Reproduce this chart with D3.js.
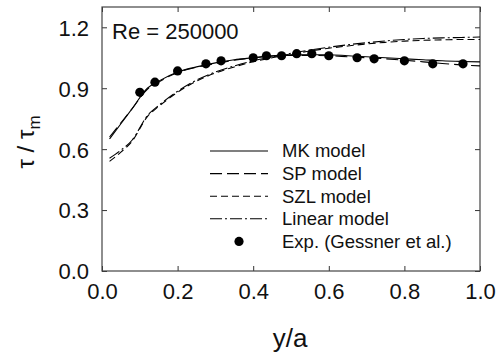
<!DOCTYPE html>
<html>
<head>
<meta charset="utf-8">
<script src="https://cdn.jsdelivr.net/npm/d3@7"></script>
<style>
  body { margin: 0; background: #fff; }
  svg { font-family: Arial, "Liberation Sans", sans-serif; }
</style>
</head>
<body>
<script>
// model curves sampled along y/a
const xs = [0.02, 0.05, 0.08, 0.12, 0.15, 0.2, 0.25, 0.3, 0.35, 0.4, 0.45, 0.5, 0.55, 0.6, 0.65, 0.7, 0.75, 0.8, 0.85, 0.9, 0.95, 1.0];
const mk = [0.65, 0.725, 0.80, 0.90, 0.935, 0.98, 1.005, 1.025, 1.04, 1.05, 1.06, 1.065, 1.065, 1.065, 1.06, 1.055, 1.05, 1.045, 1.04, 1.035, 1.032, 1.03];
const sp = [0.66, 0.73, 0.80, 0.895, 0.93, 0.978, 1.003, 1.022, 1.038, 1.05, 1.058, 1.062, 1.062, 1.06, 1.055, 1.05, 1.045, 1.038, 1.03, 1.022, 1.015, 1.01];
const szl = [0.54, 0.585, 0.64, 0.76, 0.81, 0.88, 0.935, 0.975, 1.005, 1.03, 1.05, 1.068, 1.083, 1.097, 1.108, 1.118, 1.126, 1.132, 1.136, 1.138, 1.14, 1.14];
const lin = [0.555, 0.595, 0.645, 0.765, 0.815, 0.885, 0.94, 0.98, 1.01, 1.035, 1.055, 1.072, 1.088, 1.102, 1.114, 1.124, 1.133, 1.14, 1.145, 1.148, 1.15, 1.152];

// experiment (Gessner et al.)
const expX = [0.10, 0.14, 0.20, 0.275, 0.315, 0.40, 0.435, 0.475, 0.515, 0.555, 0.60, 0.675, 0.72, 0.80, 0.875, 0.955];
const expY = [0.88, 0.93, 0.985, 1.02, 1.035, 1.05, 1.06, 1.06, 1.07, 1.07, 1.06, 1.05, 1.045, 1.035, 1.02, 1.02];

const xTicks = [0, 0.2, 0.4, 0.6, 0.8, 1.0];
const yTicks = [0, 0.3, 0.6, 0.9, 1.2];

const series = [
  { name: "MK model", values: mk, dash: null },
  { name: "SP model", values: sp, dash: "12,5" },
  { name: "SZL model", values: szl, dash: "7,4" },
  { name: "Linear model", values: lin, dash: "12,3,2,3" }
];

const W = 497, H = 356;
const m = { left: 102, top: 7, right: 17, bottom: 85 };
const w = W - m.left - m.right, h = H - m.top - m.bottom;

const svg = d3.select("body").append("svg").attr("width", W).attr("height", H);
const g = svg.append("g").attr("transform", `translate(${m.left},${m.top})`);

const x = d3.scaleLinear().domain([0, 1]).range([0, w]);
const y = d3.scaleLinear().domain([0, 1.3]).range([h, 0]);

// axes, ticks pointing inward
const axisStyle = sel => {
  sel.select(".domain").remove();
  sel.selectAll(".tick line").attr("stroke", "#333");
  sel.selectAll("text").attr("fill", "#111").style("font-size", "22px");
};
g.append("g").attr("transform", `translate(0,${h})`)
  .call(d3.axisBottom(x).tickValues(xTicks).tickSizeInner(-5).tickPadding(12).tickFormat(d3.format(".1f")))
  .call(axisStyle);
g.append("g")
  .call(d3.axisLeft(y).tickValues(yTicks).tickSizeInner(-5).tickPadding(13).tickFormat(d3.format(".1f")))
  .call(axisStyle)
  .selectAll("text").attr("dy", "0.36em");
g.append("g")
  .call(d3.axisTop(x).tickValues(xTicks).tickSizeInner(-5).tickFormat(""))
  .call(axisStyle);
g.append("g").attr("transform", `translate(${w},0)`)
  .call(d3.axisRight(y).tickValues(yTicks).tickSizeInner(-5).tickFormat(""))
  .call(axisStyle);

g.append("rect").attr("width", w).attr("height", h)
  .attr("fill", "none").attr("stroke", "#444").attr("stroke-width", 1.2);

// curves
const line = d3.line().x((d, i) => x(xs[i])).y(d => y(d)).curve(d3.curveMonotoneX);
series.forEach(s => {
  g.append("path").datum(s.values).attr("d", line)
    .attr("fill", "none").attr("stroke", "#000").attr("stroke-width", 1.1)
    .attr("stroke-dasharray", s.dash);
});

g.selectAll(".dot").data(expX).enter().append("circle")
  .attr("cx", d => x(d)).attr("cy", (d, i) => y(expY[i])).attr("r", 4.6).attr("fill", "#000");

// annotation
g.append("text").attr("x", 10).attr("y", 32).style("font-size", "22px").attr("fill", "#111").text("Re = 250000");

// legend
const leg = svg.append("g").attr("transform", "translate(210,151)");
series.forEach((s, i) => {
  leg.append("line").attr("x1", 0).attr("x2", 58).attr("y1", i * 22.6).attr("y2", i * 22.6)
    .attr("stroke", "#000").attr("stroke-width", 1.1).attr("stroke-dasharray", s.dash);
  leg.append("text").attr("x", 72).attr("y", i * 22.6).attr("dy", "0.35em")
    .style("font-size", "18.5px").attr("fill", "#111").text(s.name);
});
leg.append("circle").attr("cx", 29).attr("cy", 4 * 22.6).attr("r", 4.6).attr("fill", "#000");
leg.append("text").attr("x", 72).attr("y", 4 * 22.6).attr("dy", "0.35em")
  .style("font-size", "18.5px").attr("fill", "#111").text("Exp. (Gessner et al.)");

// axis titles
svg.append("text").attr("x", 290).attr("y", 347).attr("text-anchor", "middle")
  .style("font-size", "26px").attr("fill", "#111").text("y/a");
const yl = svg.append("text").attr("transform", "translate(34,142) rotate(-90)")
  .attr("text-anchor", "middle").style("font-size", "24px").attr("fill", "#111");
yl.append("tspan").text("τ / τ");
yl.append("tspan").attr("dy", 6).style("font-size", "17px").text("m");
</script>
</body>
</html>
